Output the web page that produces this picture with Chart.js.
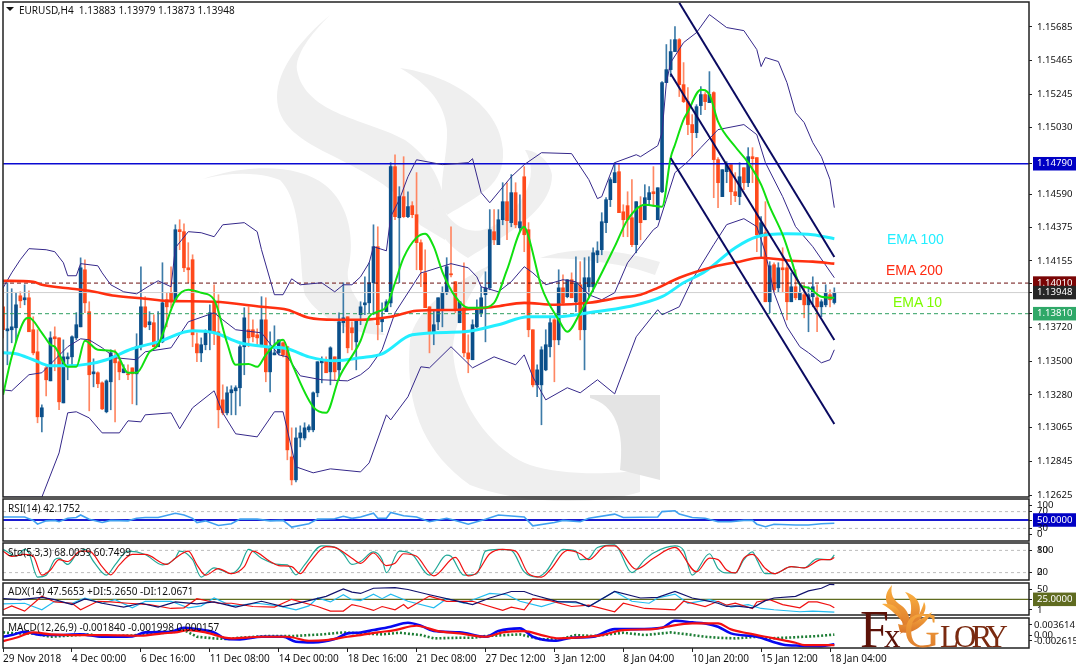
<!DOCTYPE html>
<html>
<head>
<meta charset="utf-8">
<title>EURUSD,H4</title>
<script src="https://cdn.jsdelivr.net/npm/chart.js@4"></script>
<style>
  html, body { margin: 0; padding: 0; background: #fff; width: 1076px; height: 669px; overflow: hidden; }
  canvas, svg { position: absolute; left: 0; top: 0; }
  .t { position: absolute; white-space: pre; font-family: "Noto Sans", sans-serif; font-size: 10px; line-height: 12px; color: #111; }
  .ema { position: absolute; white-space: pre; font-family: "Liberation Sans", sans-serif; font-size: 14px; line-height: 16px; }
</style>
</head>
<body>
<!-- watermark behind the charts -->
<svg width="1076" height="669">
  <g fill="#efefef">
    <path d="M330,15 C300,40 277,70 277,97 C277,125 300,140 335,157 C380,180 405,195 420,225 L445,240 C450,200 440,165 405,140 C370,120 305,115 297,70 C295,55 310,35 330,15 Z"/>
    <path d="M400,68 C450,75 500,105 503,150 C505,185 480,195 447,215 C435,190 448,160 447,130 C445,105 430,85 400,68 Z"/>
    <path d="M203,179 C250,163 300,165 325,185 C350,205 355,240 348,270 C345,290 365,310 385,335 C355,335 320,320 305,295 C298,270 305,205 280,180 C260,172 230,172 203,179 Z"/>
    <path d="M435,190 C430,215 437,240 468,258 C495,240 552,215 552,175 C550,160 535,150 525,150 C540,175 525,205 495,225 C470,240 445,225 435,190 Z"/>
    <path d="M410,340 C405,400 420,450 470,485 C520,505 600,505 640,492 L640,470 C610,475 560,475 530,465 C490,450 455,400 453,350 C453,325 470,290 490,265 C450,285 415,310 410,340 Z"/>
    <path d="M540,258 C580,245 620,250 660,262 L655,275 C620,262 575,258 540,258 Z"/>
  </g>
  <path fill="#e4e4e4" d="M590,395 L660,395 L660,480 L620,470 C625,430 615,405 590,398 Z"/>
</svg>

<canvas id="mainPane" width="1076" height="669"></canvas>
<canvas id="rsiPane" width="1076" height="669"></canvas>
<canvas id="stoPane" width="1076" height="669"></canvas>
<canvas id="adxPane" width="1076" height="669"></canvas>
<canvas id="macdPane" width="1076" height="669"></canvas>

<div class="t" style="left:19px;top:4px">EURUSD,H4  1.13883 1.13979 1.13873 1.13948</div>
<svg width="20" height="14" style="left:5px;top:5px"><path d="M1,2 L9,2 L5,6 Z" fill="#111"/></svg>
<div class="t" style="left:8px;top:502px">RSI(14) 42.1752</div>
<div class="t" style="left:8px;top:546px">Sto(5,3,3) 68.0039 60.7499</div>
<div class="t" style="left:8px;top:585px">ADX(14) 47.5653 +DI:5.2650 -DI:12.0671</div>
<div class="t" style="left:8px;top:621px">MACD(12,26,9) -0.001840 -0.001998 0.000157</div>
<div class="ema" style="left:887px;top:231px;color:#22eeff">EMA 100</div>
<div class="ema" style="left:886px;top:262px;color:#ff2a10">EMA 200</div>
<div class="ema" style="left:893px;top:294px;color:#7cfc00">EMA 10</div>

<!-- logo -->
<svg width="1076" height="669" style="pointer-events:none">
  <defs>
    <linearGradient id="gold" x1="0" y1="0" x2="0" y2="1">
      <stop offset="0" stop-color="#fbb040"/>
      <stop offset="1" stop-color="#d9742a"/>
    </linearGradient>
  </defs>
  <path fill="url(#gold)" d="M892,585 C880,598 888,608 898,616 C905,622 903,630 900,634 C912,628 912,614 902,606 C893,600 890,594 892,585 Z"/>
  <path fill="url(#gold)" d="M905,592 C920,596 925,610 914,626 C908,632 905,630 908,622 C913,610 912,600 905,592 Z"/>
  <path fill="url(#gold)" d="M924,602 C929,610 920,620 914,626 C918,616 922,610 924,602 Z"/>
  <path fill="url(#gold)" d="M882,604 C896,602 902,612 904,624 C898,616 892,610 882,604 Z"/>
  <path fill="url(#gold)" d="M898,624 C910,628 922,618 932,612 C926,624 912,636 900,632 Z"/>
  <text x="860" y="647" font-family="Liberation Serif" font-size="52" fill="#5c1208">F</text>
  <text x="884" y="647" font-family="Liberation Serif" font-size="33" fill="#5c1208">x</text>
  <text x="904" y="647" font-family="Liberation Serif" font-size="50" fill="url(#gold)">G</text>
  <text x="940" y="647" font-family="Liberation Serif" font-size="31" fill="#7a2a10" textLength="68">LORY</text>
</svg>

<script>
// candles, all prices in points (1.13948 = 113948), one entry per H4 bar
const opens = [
  113855,113698,113705,113718,113927,113901,113914,113705,113561,113136,
  113456,113371,113659,113652,113227,113515,113528,113652,113724,114097,
  113823,113417,113424,113358,113169,113365,113522,113496,113424,113417,
  113456,113417,113594,113855,113738,113751,113594,113626,113901,113947,
  113901,114359,114346,114110,114163,113613,113554,113607,113685,113881,
  113692,113247,113162,113293,113306,113326,113594,113705,113705,113672,
  113594,113770,113430,113541,113554,113620,113594,112874,112724,112998,
  112998,113051,113051,113293,113489,113509,113430,113528,113443,113751,
  113790,113718,113626,113803,113868,113881,114012,114248,113757,113823,
  113881,114771,114437,114575,114444,114516,114457,114274,114077,113855,
  113692,113757,113836,113947,114071,114019,113751,113849,113554,113509,
  113724,113816,113934,113979,114346,114261,114424,114542,114405,114601,
  114371,114705,114359,113705,113345,113345,113443,113594,113770,113639,
  113979,113921,114032,113888,113999,113705,113986,113986,114195,114228,
  114405,114555,114666,114738,114476,114516,114437,114261,114510,114424,
  114555,114607,114424,114607,115320,115405,115523,115601,115307,115196,
  115046,114993,115170,115242,115189,115255,114817,114575,114738,114784,
  114607,114575,114764,114666,114836,114830,114313,114339,113888,114130,
  113979,114110,114110,113888,113986,113901,113934,113868,113921,113914,
  113855,113868,113934,113883];
const highs = [
  113979,114012,113973,113947,113953,113999,113960,113790,113705,113214,
  113476,113692,113724,113652,113639,113554,113666,113817,114175,114162,
  113888,113515,113430,113365,113378,113574,113574,113522,113476,113476,
  113456,113679,114117,113921,113823,113803,113823,114143,113947,114117,
  114391,114424,114398,114274,114195,113685,113652,113705,113868,113999,
  113934,113345,113332,113339,113339,113607,113849,113855,113770,113711,
  113921,113914,113692,113731,113639,113626,113594,113064,113064,113077,
  113097,113084,113299,113496,113528,113528,113594,113528,113816,114012,
  113790,113757,113770,113888,114051,114143,114391,114378,113881,113901,
  114797,114849,114640,114836,114607,114542,114732,114293,114228,113855,
  113836,113914,113986,114176,114378,114019,113888,114143,113672,113770,
  113901,113986,114084,114490,114490,114490,114666,114666,114719,114666,
  114587,114771,114405,113705,113476,113594,113705,113790,113783,114097,
  114064,114032,114077,114182,114150,114176,114182,114241,114280,114470,
  114568,114699,114797,114784,114522,114607,114686,114542,114575,114653,
  114640,114771,114633,115327,115569,115601,115686,115608,115451,115287,
  115111,115176,115294,115255,115392,115261,114830,114751,114804,114784,
  114732,114797,114764,114895,114895,114830,114444,114542,114150,114143,
  114143,114241,114143,114077,114097,113999,113999,113986,114051,113999,
  113901,113999,113966,113979];
const lows = [
  113652,113476,113620,113626,113849,113868,113692,113541,113097,113038,
  113273,113371,113437,113182,113227,113378,113476,113639,113724,113816,
  113175,113332,113326,113182,113162,113182,113103,113378,113424,113378,
  113221,113214,113574,113718,113705,113594,113594,113620,113724,113849,
  113888,114228,114084,114012,113594,113496,113496,113574,113574,113607,
  113064,113149,113149,113149,113149,113208,113411,113594,113626,113607,
  113594,113365,113299,113541,113541,113528,112855,112691,112711,112940,
  112985,113038,113038,113267,113358,113424,113345,113378,113378,113685,
  113554,113574,113443,113738,113803,113816,113803,113639,113692,113823,
  113855,114424,114012,114437,114437,114437,114097,113986,113849,113554,
  113607,113705,113724,113934,114051,113816,113751,113528,113424,113509,
  113718,113790,113626,113966,114261,114261,114391,114293,114378,114371,
  114346,114215,113659,113332,113267,113084,113437,113528,113365,113607,
  113868,113914,113914,113823,113639,113443,113921,113947,114143,114195,
  114339,114510,114666,114470,114313,114313,114248,114208,114293,114424,
  114522,114510,114424,114601,115320,115359,115523,115229,115189,114980,
  114836,114960,115111,115144,115189,114568,114503,114575,114666,114522,
  114542,114522,114620,114640,114666,114215,114176,113888,113816,113953,
  113953,113953,113770,113888,113901,113901,113783,113692,113855,113692,
  113790,113855,113855,113873];
const closes = [
  113705,113711,113724,113868,113894,113914,113692,113554,113136,113195,
  113378,113652,113646,113234,113528,113528,113659,113738,114110,113881,
  113411,113430,113352,113188,113371,113554,113489,113430,113450,113411,
  113417,113594,113855,113724,113757,113594,113626,113881,113855,113888,
  114359,114346,114110,114097,113672,113554,113607,113685,113816,113692,
  113182,113162,113293,113313,113326,113594,113783,113652,113659,113652,
  113770,113430,113594,113554,113639,113541,112920,112724,112998,113031,
  113064,113071,113293,113496,113509,113424,113587,113430,113757,113783,
  113587,113685,113770,113855,113881,114012,114248,113738,113783,113888,
  114771,114444,114575,114444,114510,114457,114274,114097,113849,113692,
  113738,113914,113947,114117,114064,113836,113888,113554,113515,113738,
  113836,113914,113979,114359,114293,114424,114542,114418,114601,114391,
  114411,114326,113705,113345,113443,113574,113607,113751,113639,113979,
  113881,114032,113914,114012,113705,114045,114045,114208,114221,114411,
  114555,114686,114732,114470,114424,114424,114261,114542,114405,114568,
  114601,114594,114633,115320,115405,115523,115601,115307,115196,115046,
  114993,115163,115242,115196,115242,114817,114666,114751,114784,114607,
  114581,114705,114666,114836,114823,114326,114405,113888,114123,113966,
  114110,114097,113888,113986,113914,113947,113868,113934,113986,113855,
  113888,113947,113901,113948];

// moving averages, read at the turning points (bar number / points)
const ema10Bars = [0,2,5,6,9,11,12,15,17,19,22,26,29,31,34,36,40,43,46,49,52,54,57,59,61,65,67,72,75,78,83,85,87,89,91,93,96,98,100,102,105,108,111,114,117,121,122,125,129,131,134,137,142,145,149,153,155,156,158,159,162,164,166,170,173,176,178,181,183,185,187,190,193];
const ema10Vals = [113280,113528,113770,113783,113685,113607,113594,113463,113463,113633,113574,113561,113424,113424,113561,113607,113901,113966,113947,113901,113620,113476,113482,113463,113541,113639,113489,113201,113162,113391,113633,113790,113823,113855,114012,114176,114307,114333,114248,114084,113921,113849,113849,113881,114097,114378,114313,113986,113770,113692,113816,113966,114248,114424,114522,114509,114829,114914,115078,115130,115274,115242,115065,114901,114797,114653,114509,114326,114163,113999,113979,113921,113914];
const ema100Bars = [0,3,7,11,15,20,24,30,36,44,49,55,61,66,71,77,83,88,95,107,115,122,129,136,145,153,158,163,170,175,182,188,193];
const ema100Vals = [113554,113548,113509,113469,113469,113482,113509,113581,113626,113698,113685,113620,113594,113581,113528,113502,113522,113548,113672,113692,113738,113790,113790,113816,113855,113921,114012,114085,114241,114313,114332,114326,114300];
const ema200Bars = [0,7,9,16,20,26,33,38,49,60,66,71,77,83,90,96,106,114,121,128,136,143,148,152,157,165,171,176,183,188,193];
const ema200Vals = [114025,114019,113999,113973,113960,113927,113908,113894,113888,113855,113836,113783,113770,113770,113790,113829,113836,113855,113881,113868,113881,113914,113934,113979,114045,114117,114150,114176,114156,114150,114137];

// bollinger bands
const upperBars = [0,2,4,6,10,12,14,15,17,18,22,23,25,28,31,34,36,39,40,43,46,49,51,56,59,60,63,65,67,69,74,77,79,81,83,85,86,89,90,92,94,96,102,108,109,111,113,118,121,125,132,136,138,139,142,147,148,152,153,154,155,158,161,164,168,172,175,176,177,180,182,184,186,188,190,192,193];
const upperVals = [113979,114077,114163,114235,114228,114215,114143,114058,114058,114137,114123,114077,113999,113953,113940,113993,114025,113986,114241,114346,114339,114313,114391,114405,114346,114228,113934,113934,114038,113999,114012,113953,113999,113999,114051,114143,114248,114221,114444,114555,114705,114816,114784,114797,114823,114601,114535,114705,114784,114862,114856,114686,114562,114575,114797,114849,114836,114908,114993,115320,115451,115582,115647,115765,115680,115660,115536,115425,115484,115458,115320,115124,115059,114928,114836,114686,114503];
const middleBars = [0,2,6,9,12,15,18,20,23,26,31,33,39,43,49,51,54,60,64,66,69,74,80,83,85,88,91,97,98,104,108,110,111,115,118,121,123,126,130,133,136,139,142,145,151,152,154,156,159,162,166,172,175,177,181,184,188,193];
const middleVals = [113312,113306,113411,113424,113509,113594,113646,113639,113587,113522,113509,113561,113587,113757,113816,113770,113705,113685,113541,113528,113404,113378,113371,113411,113456,113574,113816,114077,114084,114137,114110,114051,113986,113953,114019,114117,114077,113999,114032,114019,113934,113901,113947,114143,114359,114379,114555,114732,114804,114895,115013,115046,114980,114797,114575,114379,114248,114045];
const lowerBars = [0,9,13,15,17,20,23,27,29,32,33,39,41,44,49,51,54,59,63,65,68,72,76,83,85,89,90,94,97,99,104,109,114,119,121,123,126,131,134,138,142,147,152,153,157,160,165,168,172,175,177,179,182,185,187,190,192,193];
const lowerVals = [112611,112611,112900,113162,113169,113129,113031,113031,113110,113103,113149,113162,113058,113195,113306,113162,113025,113005,113169,113169,112809,112770,112796,112776,112835,113149,113116,113267,113463,113456,113594,113456,113528,113476,113541,113397,113247,113326,113293,113378,113286,113659,113836,113803,113855,114032,114261,114392,114431,114379,114208,113947,113724,113594,113555,113489,113509,113574];

// trend channel, two ends per line
const channelBars = [157, 193];
const channelTop = [115842, 114181];
const channelMid = [115378, 113638];
const channelLowBars = [155, 193];
const channelLow = [114828, 113089];
const channelMidBars = [155, 193];

// horizontal levels
const levelBlue = 114790;
const levelRed = 114010;
const levelGreen = 113810;
const levelLast = 113948;

// RSI
const rsiBars = [0,2,5,7,8,10,12,13,15,17,18,20,23,25,29,31,33,36,40,42,44,45,47,50,53,55,59,62,65,67,71,73,77,79,81,83,86,87,89,90,93,96,99,103,105,108,112,115,121,123,128,130,134,136,142,144,152,153,156,157,160,163,166,169,172,174,175,177,179,184,187,190,193];
const rsiVals = [57,57,57,49,40,48,49,46,54,56,62,52,44,49,48,54,56,56,66,62,54,44,48,37,41,52,52,48,49,33,41,52,53,59,54,57,66,54,54,68,60,57,46,54,49,40,52,62,57,36,44,49,46,54,64,56,57,70,72,64,56,54,46,46,49,49,40,34,40,38,38,41,42.18];

// Stochastic main and signal
const stoMainBars = [0,2,3,5,6,8,10,12,13,15,17,19,21,24,26,29,33,37,40,41,44,46,49,53,55,57,60,64,66,68,70,74,77,79,81,83,86,88,89,92,95,99,103,104,107,110,112,115,118,121,124,126,130,133,134,136,138,142,146,149,151,156,158,160,164,166,168,170,172,174,175,177,179,183,186,189,192,193];
const stoMainVals = [83,69,64,83,73,8,13,55,59,42,69,83,50,13,41,78,69,41,59,78,55,8,33,17,36,83,59,42,41,14,41,92,89,71,42,50,76,55,20,78,69,13,67,64,13,17,78,83,80,22,8,22,83,78,55,59,88,95,20,55,73,92,80,13,71,31,19,19,55,76,55,17,17,36,33,57,55,68];
const stoSignalBars = [0,2,5,7,9,11,13,15,18,20,23,25,27,30,33,38,40,43,45,47,50,53,56,58,62,64,67,69,71,75,77,81,83,86,89,91,93,96,100,105,108,110,113,116,119,122,125,127,131,134,136,140,142,147,151,156,161,164,166,168,170,172,174,177,179,183,186,190,192,193];
const stoSignalVals = [78,64,69,64,13,27,55,50,78,78,36,14,41,69,69,42,59,78,41,13,31,17,36,78,50,39,36,17,45,90,88,59,45,73,39,45,71,64,11,61,11,20,71,83,78,17,8,27,80,71,55,92,92,29,59,88,22,59,55,27,19,59,69,31,17,36,33,55,55,60.75];

// ADX, +DI and -DI
const adxBars = [0,4,9,12,16,19,23,28,32,36,40,45,49,54,60,65,71,75,79,81,83,86,91,94,99,105,109,113,118,121,123,129,133,136,142,148,152,156,160,164,166,168,170,174,177,179,184,187,190,192,193];
const adxVals = [26,24.5,28,24.5,17,25.5,19,13,19,13,21,18,21,13,22,14,23,29.6,41,36,34,42,43,40,32,23,17,27,37,37,32,21,21,14,37,27,28,37,27,22,19,14,15,12,23,27,29.6,38,42,48,47.56];
const plusDiBars = [0,5,9,12,16,19,23,26,30,33,39,43,46,49,53,59,64,68,71,73,76,79,81,83,86,88,90,94,100,103,107,113,117,120,125,129,134,136,142,146,150,152,156,159,164,166,169,173,176,179,185,188,193];
const plusDiVals = [18,19,9,22,19,27,19,24.5,12,22,22,12,15,27,15,19,15,9,15,27,21,32,24.5,23,33,26,33,22,12,26,19,34,32,22,14,22,19,14,37,22,19,27,33,19,24.5,21,13,17,11,9,6,7,5.27];
const minusDiBars = [0,2,5,9,12,16,18,22,25,29,34,39,42,45,50,53,58,63,67,73,76,79,81,83,86,88,91,93,94,99,103,109,116,118,121,123,127,132,136,142,144,149,156,158,163,166,168,170,174,175,178,181,185,187,189,192,193];
const minusDiVals = [9,15,7,29.6,21,19,9,22,21,19,17,11,12,26,19,19,14,13,25,14,7,7,17,14,8,14,9,17,11,30,22,22,8,13,9,26,23,14,16,6,19,11,9,22,14,22,16,19,11,21,24.5,17,12,21,21,16,12.07];

// MACD main, signal and the dotted OsMA
const macdBars = [0,2,5,9,12,18,23,30,33,39,42,45,49,52,55,60,65,68,72,77,80,83,86,90,94,97,100,106,112,115,120,123,128,132,137,142,147,153,156,160,163,166,169,175,181,185,190,193];
const macdVals = [-0.00028,0.00007,0.00076,0.00007,0.00007,0.00021,-0.00028,-0.00021,0.00062,0.00076,0.00159,0.00131,0.00062,-0.00076,-0.00083,-0.00028,-0.00028,-0.00131,-0.00145,-0.00076,0.00042,0.00062,0.00111,0.0018,0.00263,0.00201,0.0009,0.00062,-0.00028,0.0009,0.00145,-0.00028,-0.00111,-0.00048,-0.00028,0.00131,0.00131,0.00159,0.00304,0.0027,0.00249,0.0018,0.00042,-0.00028,-0.00187,-0.00214,-0.00222,-0.00184];
const signalBars = [0,3,7,11,18,24,32,37,40,43,47,53,60,66,71,75,80,83,87,91,96,101,106,112,116,121,125,129,133,139,144,151,154,160,164,166,169,173,179,184,186,193];
const signalVals = [-0.00118,-0.00048,0.00062,0.00021,0.00007,0.00007,-0.00007,0.00042,0.00062,0.00111,0.00062,-0.00062,-0.00028,-0.00028,-0.00111,-0.00097,-0.00028,0.00007,0.00062,0.00111,0.00201,0.0009,0.00042,-0.00028,0.00062,0.0009,0.00007,-0.00062,-0.00048,0.00007,0.00111,0.00131,0.0018,0.00249,0.00249,0.00249,0.00125,0.00042,-0.00062,-0.00152,-0.00201,-0.002];
const osmaBars = [0,3,7,11,15,20,23,30,40,42,45,49,52,55,61,67,74,79,83,88,92,97,100,106,109,112,120,125,129,133,137,144,149,155,159,163,166,170,175,178,183,189,193];
const osmaVals = [0.00062,0.00042,0.00042,-0.00028,-0.00007,0.00021,-0.00028,0,0.00076,0.00111,-0.00028,-0.00062,-0.00076,-0.00048,-0.00014,-0.00014,0.00021,0.00062,0.00042,0.00021,0.00055,0.00007,-0.00062,-0.00048,-0.00048,-0.00014,0.00021,-0.00083,-0.00083,0.00007,-0.00014,0.00055,0.00007,0.00062,0.00021,-0.00028,-0.00048,-0.00062,-0.00028,-0.00062,-0.00042,-0.00014,0.00016];

// axes
const timeTickBars = [0,16,32,48,64,80,96,112,128,144,160,176,192];
const timeTickLabels = ["29 Nov 2018","4 Dec 00:00","6 Dec 16:00","11 Dec 08:00","14 Dec 00:00","18 Dec 16:00","21 Dec 08:00","27 Dec 12:00","3 Jan 12:00","8 Jan 04:00","10 Jan 20:00","15 Jan 12:00","18 Jan 04:00"];
const priceTicks = [1.15685,1.15465,1.15245,1.1503,1.1479,1.1459,1.14375,1.14155,1.1401,1.13948,1.1381,1.1372,1.135,1.1328,1.13065,1.12845,1.12625];
const priceLabels = ["1.15685","1.15465","1.15245","1.15030","1.14790","1.14590","1.14375","1.14155","1.14010","1.13948","1.13810","1.13720","1.13500","1.13280","1.13065","1.12845","1.12625"];
// MT4 pulls the top and bottom labels of a sub window inwards, so those ticks sit off their real value
const rsiTicks = [84,70,50,30,15];
const rsiLabels = ["100","70","50.0000","30","0"];
const stoTicks = [80.1,80,20.1,20];
const stoLabels = ["100","80","0","20"];
const adxTicks = [40,25,9];
const adxLabels = ["50","25.0000","1"];
const macdTicks = [0.00218,0,-0.00112];
const macdLabels = ["0.003614","0.00","-0.002615"];

const X_MIN = -0.02;
const X_MAX = 238.2;
const BULL = "#0b4f8a";
const BEAR = "#ff4a1c";
const BULL_WICK = "#3d7ba8";
const BEAR_WICK = "#ff8763";
const BAND = "#35288a";

const bars = opens.map((o, i) => i);

function series(xs, ys, div) {
  return xs.map((x, i) => ({ x: x, y: ys[i] / (div || 1) }));
}

function line(xs, ys, color, width, order, div, dash) {
  return {
    type: "line",
    data: series(xs, ys, div),
    borderColor: color,
    borderWidth: width,
    borderDash: dash || [],
    pointRadius: 0,
    tension: 0,
    order: order,
  };
}

// same as line but drawn with a smooth curve, the indicators in the picture are not jagged
function curve(xs, ys, color, width, order, div, dash) {
  const d = line(xs, ys, color, width, order, div, dash);
  d.cubicInterpolationMode = "monotone";
  return d;
}

function level(y, color, width, dash) {
  return line([X_MIN, X_MAX], [y, y], color, width, 8, 1, dash);
}

// draws the black frame of a pane
const paneFrame = {
  id: "paneFrame",
  afterDraw(chart) {
    const a = chart.chartArea;
    const c = chart.ctx;
    c.save();
    c.strokeStyle = "#222";
    c.lineWidth = 1.5;
    c.strokeRect(a.left, a.top, a.right - a.left, a.bottom - a.top);
    c.restore();
  },
};

function makePane(id, top, bottom, datasets, yMin, yMax, ticks, labels, boxes, showTime) {
  const padBottom = showTime ? 669 - bottom - 20 : 669 - bottom;
  new Chart(document.getElementById(id), {
    type: "line",
    data: { datasets: datasets },
    plugins: [paneFrame],
    options: {
      responsive: false,
      animation: false,
      devicePixelRatio: 1,
      layout: { padding: { left: 3, right: 0, top: top, bottom: padBottom } },
      plugins: { legend: { display: false }, tooltip: { enabled: false } },
      scales: {
        x: {
          type: "linear",
          min: X_MIN,
          max: X_MAX,
          offset: false,
          display: !!showTime,
          grid: { drawOnChartArea: false, drawTicks: true, tickLength: 4, color: "#222", offset: false },
          border: { display: false },
          afterBuildTicks(s) { s.ticks = timeTickBars.map((v) => ({ value: v })); },
          afterFit(s) { s.height = showTime ? 20 : 0; s.paddingLeft = 0; s.paddingRight = 0; },
          ticks: {
            autoSkip: false,
            maxRotation: 0,
            align: "start",
            padding: 1,
            color: "#111",
            font: { family: "Noto Sans", size: 10 },
            callback(v) { return timeTickLabels[timeTickBars.indexOf(v)]; },
          },
        },
        y: {
          position: "right",
          min: yMin,
          max: yMax,
          grid: { drawOnChartArea: false, tickLength: 3, color: "#222" },
          border: { display: false },
          afterBuildTicks(s) { s.ticks = ticks.map((v) => ({ value: v })); },
          afterFit(s) { s.width = 47; s.paddingTop = 0; s.paddingBottom = 0; },
          ticks: {
            autoSkip: false,
            // the long MACD labels start further left
            padding: showTime ? 2 : 5,
            font: { family: "Noto Sans", size: 9.6 },
            color(ctx) { return boxes[ctx.tick.value] ? "#fff" : "#111"; },
            showLabelBackdrop(ctx) { return !!boxes[ctx.tick.value]; },
            backdropColor(ctx) { return boxes[ctx.tick.value] || "rgba(0,0,0,0)"; },
            backdropPadding: { left: 4, right: 6, top: 1, bottom: 1 },
            callback(v) { return labels[ticks.indexOf(v)]; },
          },
        },
      },
    },
  });
}

// candles: wick and body are two floating bars on the same slot
function candleSets() {
  const up = opens.map((o, i) => closes[i] >= o);
  return [
    {
      type: "bar",
      data: bars.map((i) => ({ x: i, y: [lows[i] / 1e5, highs[i] / 1e5] })),
      backgroundColor: up.map((u) => (u ? BULL_WICK : BEAR_WICK)),
      barThickness: 1,
      grouped: false,
      order: 12,
    },
    {
      type: "bar",
      data: bars.map((i) => ({ x: i, y: [opens[i] / 1e5, closes[i] / 1e5] })),
      backgroundColor: up.map((u) => (u ? BULL : BEAR)),
      barThickness: 3,
      minBarLength: 1,
      grouped: false,
      order: 11,
    },
  ];
}

makePane("mainPane", 2, 497, candleSets().concat([
  level(levelBlue / 1e5, "#0a0ad2", 1.5),
  level(levelRed / 1e5, "#6b0f0f", 1, [4, 3]),
  level(levelGreen / 1e5, "#2e9e60", 1, [4, 3]),
  level(levelLast / 1e5, "#cfcfcf", 1),
  line(upperBars, upperVals, BAND, 1, 5, 1e5),
  line(middleBars, middleVals, BAND, 1, 5, 1e5),
  line(lowerBars, lowerVals, BAND, 1, 5, 1e5),
  curve(ema100Bars, ema100Vals, "#22eeff", 3, 4, 1e5),
  curve(ema200Bars, ema200Vals, "#ff3010", 2.6, 3, 1e5),
  curve(ema10Bars, ema10Vals, "#10e010", 2, 2, 1e5),
  line(channelBars, channelTop, "#0a0a60", 2, 1, 1e5),
  line(channelMidBars, channelMid, "#0a0a60", 2, 1, 1e5),
  line(channelLowBars, channelLow, "#0a0a60", 2, 1, 1e5),
]), 1.12612, 1.15847, priceTicks, priceLabels, {
  1.1479: "#0000c4", 1.1401: "#7a0505", 1.13948: "#262626", 1.1381: "#2fa868",
});

makePane("rsiPane", 499, 541, [
  level(70, "#bdbdbd", 1, [3, 3]),
  level(30, "#bdbdbd", 1, [3, 3]),
  level(50, "#1a1ad0", 2),
  line(rsiBars, rsiVals, "#3fa0f0", 1.6, 3),
], 0, 100, rsiTicks, rsiLabels, { 50: "#0000c4" });

makePane("stoPane", 543, 580, [
  level(80, "#bdbdbd", 1, [3, 3]),
  level(20, "#bdbdbd", 1, [3, 3]),
  curve(stoMainBars, stoMainVals, "#20a898", 1.2, 4),
  curve(stoSignalBars, stoSignalVals, "#f01010", 1.2, 3),
], 0, 100, stoTicks, stoLabels, {});

makePane("adxPane", 583, 615, [
  level(25, "#5f6b20", 1.2),
  line(plusDiBars, plusDiVals, "#22bcf0", 1.2, 5),
  line(minusDiBars, minusDiVals, "#f01010", 1.2, 4),
  line(adxBars, adxVals, "#12126e", 1.2, 3),
], 1, 50, adxTicks, adxLabels, { 25: "#5f6b20" });

makePane("macdPane", 618, 648, [
  line(osmaBars, osmaVals, "#1c7d34", 2.6, 5, 1, [2, 2]),
  curve(macdBars, macdVals, "#0808f0", 2.6, 4),
  curve(signalBars, signalVals, "#f51010", 2.2, 3),
], -0.002615, 0.003614, macdTicks, macdLabels, {}, true);
</script>
</body>
</html>
